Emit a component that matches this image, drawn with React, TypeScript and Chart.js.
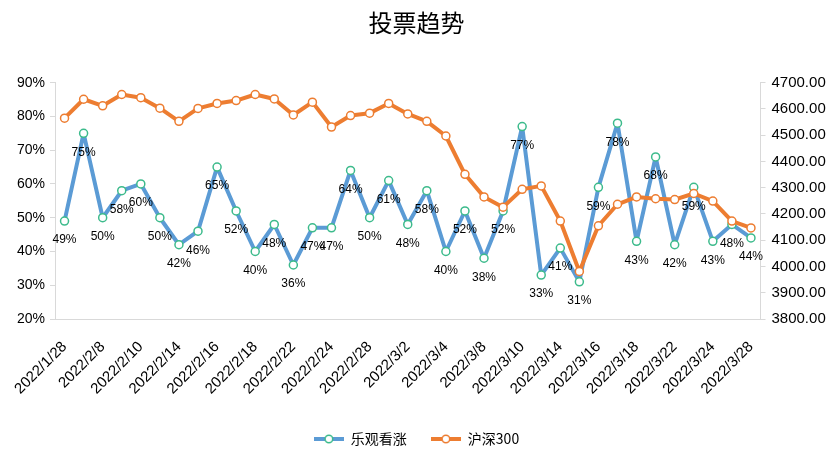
import React, { useEffect, useRef } from 'react';
import { Chart, registerables } from 'chart.js';

Chart.register(...registerables);

const dates = [
  '2022/1/28', '2022/2/7', '2022/2/8', '2022/2/9', '2022/2/10', '2022/2/11',
  '2022/2/14', '2022/2/15', '2022/2/16', '2022/2/17', '2022/2/18',
  '2022/2/21', '2022/2/22', '2022/2/23', '2022/2/24', '2022/2/25',
  '2022/2/28', '2022/3/1', '2022/3/2', '2022/3/3', '2022/3/4',
  '2022/3/7', '2022/3/8', '2022/3/9', '2022/3/10', '2022/3/11',
  '2022/3/14', '2022/3/15', '2022/3/16', '2022/3/17', '2022/3/18',
  '2022/3/21', '2022/3/22', '2022/3/23', '2022/3/24', '2022/3/25',
  '2022/3/28',
];

const bullish = [
  49, 75, 50, 58, 60, 50, 42, 46, 65, 52, 40, 48, 36, 47, 47, 64, 50, 61, 48,
  58, 40, 52, 38, 52, 77, 33, 41, 31, 59, 78, 43, 68, 42, 59, 43, 48, 44,
];

const csi300 = [
  4565, 4637, 4612, 4655, 4643, 4603, 4553, 4602, 4621, 4632, 4655, 4638,
  4577, 4626, 4531, 4575, 4584, 4621, 4581, 4553, 4497, 4351, 4265, 4226,
  4294, 4307, 4173, 3981, 4155, 4237, 4265, 4258, 4255, 4278, 4249, 4173,
  4147,
];

const seriesNames = ['乐观看涨', '沪深300'];
const title = '投票趋势';

const BLUE = '#5B9BD5';
const GREEN = '#3DBB8C';
const ORANGE = '#ED7D31';
const AXIS = '#D9D9D9';
const CJK = '"Noto Sans CJK SC", "Liberation Sans", sans-serif';
const NUM = '"Liberation Sans", "Noto Sans CJK SC", sans-serif';

function legendIcon(line: string, marker: string): HTMLCanvasElement {
  const c = document.createElement('canvas');
  c.width = 30;
  c.height = 12;
  const ctx = c.getContext('2d')!;
  ctx.strokeStyle = line;
  ctx.lineWidth = 4;
  ctx.beginPath();
  ctx.moveTo(0, 6);
  ctx.lineTo(30, 6);
  ctx.stroke();
  ctx.beginPath();
  ctx.arc(15, 6, 3.8, 0, Math.PI * 2);
  ctx.fillStyle = '#fff';
  ctx.fill();
  ctx.lineWidth = 1.5;
  ctx.strokeStyle = marker;
  ctx.stroke();
  return c;
}

const valueLabels = {
  id: 'valueLabels',
  afterDatasetsDraw(chart: any) {
    const meta = chart.getDatasetMeta(0);
    const ctx = chart.ctx;
    ctx.save();
    ctx.font = '12px ' + NUM;
    ctx.fillStyle = '#000';
    ctx.textAlign = 'center';
    ctx.textBaseline = 'middle';
    meta.data.forEach((pt: any, i: number) => {
      ctx.fillText(bullish[i] + '%', pt.x, pt.y + 19);
    });
    ctx.restore();
  },
};

export default function App() {
  const ref = useRef<HTMLCanvasElement | null>(null);

  useEffect(() => {
    if (!ref.current) return;
    const icons = [legendIcon(BLUE, GREEN), legendIcon(ORANGE, ORANGE)];
    const chart = new Chart(ref.current, {
      type: 'line',
      data: {
        labels: dates,
        datasets: [
          {
            label: seriesNames[0],
            data: bullish,
            yAxisID: 'y',
            borderColor: BLUE,
            backgroundColor: BLUE,
            borderWidth: 4,
            borderJoinStyle: 'round',
            borderCapStyle: 'round',
            pointRadius: 4,
            pointBorderWidth: 1.5,
            pointBackgroundColor: '#fff',
            pointBorderColor: GREEN,
            pointStyle: 'circle',
            tension: 0,
            order: 1,
          },
          {
            label: seriesNames[1],
            data: csi300,
            yAxisID: 'y1',
            borderColor: ORANGE,
            backgroundColor: ORANGE,
            borderWidth: 4,
            borderJoinStyle: 'round',
            borderCapStyle: 'round',
            pointRadius: 4,
            pointBorderWidth: 1.5,
            pointBackgroundColor: '#fff',
            pointBorderColor: ORANGE,
            pointStyle: 'circle',
            tension: 0,
            order: 0,
          },
        ],
      },
      options: {
        animation: false,
        responsive: false,
        maintainAspectRatio: false,
        layout: { padding: { left: 0, right: 0, top: 0, bottom: 10 } },
        plugins: {
          tooltip: { enabled: false },
          title: {
            display: true,
            text: title,
            color: '#000',
            font: { family: CJK, size: 24, weight: 'normal', lineHeight: 1.2 },
            padding: { top: 8.6, bottom: 45.3 },
          },
          legend: {
            display: true,
            position: 'bottom',
            labels: {
              usePointStyle: true,
              pointStyleWidth: 30,
              padding: 24,
              color: '#000',
              font: { family: CJK, size: 14 },
              sort: (a: any, b: any) => a.datasetIndex - b.datasetIndex,
              generateLabels: (ch: any) =>
                ch.data.datasets.map((ds: any, i: number) => ({
                  text: ds.label,
                  datasetIndex: i,
                  pointStyle: icons[i],
                  fillStyle: ds.borderColor,
                  strokeStyle: ds.borderColor,
                  lineWidth: 0,
                  hidden: false,
                  fontColor: '#000',
                })),
            },
          },
        },
        scales: {
          x: {
            offset: true,
            grid: { display: false },
            border: { display: true, color: AXIS, width: 1 },
            ticks: {
              autoSkip: false,
              minRotation: 45,
              maxRotation: 45,
              padding: 11,
              color: '#000',
              font: { family: NUM, size: 15 },
              callback: (_v: any, i: number) => (i % 2 === 0 ? dates[i] : ''),
            },
            afterFit: (s: any) => {
              s.height = 89;
            },
          },
          y: {
            position: 'left',
            min: 20,
            max: 90,
            grid: {
              drawOnChartArea: false,
              drawTicks: true,
              tickLength: 5,
              color: AXIS,
            },
            border: { display: true, color: AXIS, width: 1 },
            ticks: {
              stepSize: 10,
              padding: 5,
              color: '#000',
              font: { family: NUM, size: 14 },
              callback: (v: any) => v + '%',
            },
            afterFit: (s: any) => {
              s.width = 55;
            },
          },
          y1: {
            position: 'right',
            min: 3800,
            max: 4700,
            grid: {
              drawOnChartArea: false,
              drawTicks: true,
              tickLength: 5,
              color: AXIS,
            },
            border: { display: true, color: AXIS, width: 1 },
            ticks: {
              stepSize: 100,
              padding: 6,
              color: '#000',
              font: { family: NUM, size: 15 },
              callback: (v: any) => Number(v).toFixed(2),
            },
            afterFit: (s: any) => {
              s.width = 72.5;
            },
          },
        },
      },
      plugins: [valueLabels],
    });
    return () => chart.destroy();
  }, []);

  return (
    <div style={{ position: 'absolute', left: 0, top: 0, width: 833, height: 466, background: '#fff' }}>
      <canvas ref={ref} width={833} height={466} style={{ width: 833, height: 466 }} />
    </div>
  );
}
